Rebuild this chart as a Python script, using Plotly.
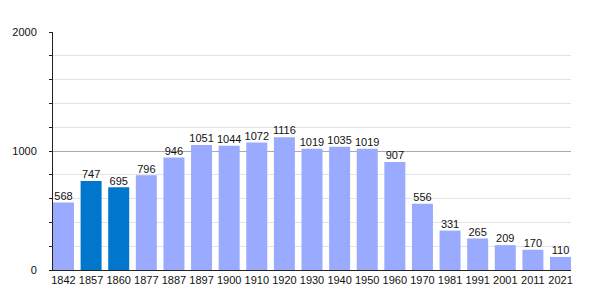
import plotly.graph_objects as go

years = ["1842", "1857", "1860", "1877", "1887", "1897", "1900", "1910", "1920", "1930",
         "1940", "1950", "1960", "1970", "1981", "1991", "2001", "2011", "2021"]
population = [568, 747, 695, 796, 946, 1051, 1044, 1072, 1116, 1019,
              1035, 1019, 907, 556, 331, 265, 209, 170, 110]
highlight = ["1857", "1860"]

colors = ["#0077CC" if y in highlight else "#99AAFF" for y in years]
FONT = "Liberation Sans, Arial, sans-serif"

fig = go.Figure()
fig.add_trace(go.Bar(
    x=years, y=population,
    marker=dict(color=colors, line=dict(width=0)),
    hoverinfo="x+y",
))
fig.add_trace(go.Scatter(
    x=years, y=population, mode="text",
    text=[str(v) for v in population], textposition="top center",
    textfont=dict(family=FONT, size=11, color="#111"),
    cliponaxis=False, hoverinfo="skip",
))

gap = 0.24
fig.update_layout(
    width=600, height=300,
    margin=dict(l=50, r=29, t=32, b=30),
    paper_bgcolor="white", plot_bgcolor="white",
    bargap=gap, showlegend=False,
    font=dict(family=FONT, size=11, color="#111"),
)
fig.update_yaxes(
    range=[0, 2000], tickvals=[0, 1000, 2000], ticktext=["0", "1000", "2000"],
    showgrid=True, gridcolor="#aaaaaa", gridwidth=1,
    ticks="outside", ticklen=3, tickcolor="#222",
    ticklabelstandoff=10,
    showline=True, linecolor="#222", linewidth=1,
    zeroline=False,
    minor=dict(dtick=200, tick0=0, showgrid=True, gridcolor="#e4e4e4",
               ticks="outside", ticklen=3, tickcolor="#222"),
)
fig.update_xaxes(
    type="category",
    range=[-0.5 + gap / 2, len(years) - 0.5 - gap / 2],
    showgrid=False, showline=True, linecolor="#222", linewidth=1,
    ticks="", tickangle=0,
)

fig.write_html("out.html")
